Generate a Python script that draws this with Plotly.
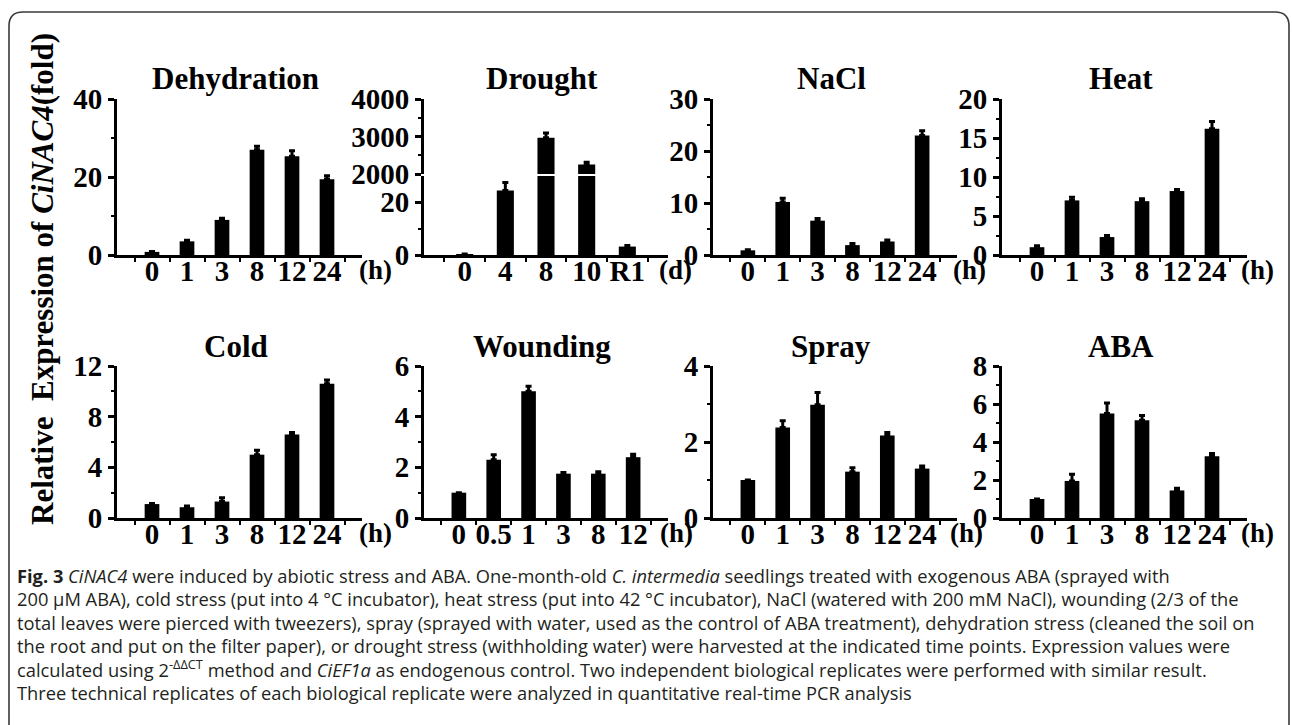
import plotly.graph_objects as go

W, H = 1292, 725

# ---------------- data ----------------
dehy_cats = ["0", "1", "3", "8", "12", "24"]
dehy_vals = [0.8, 3.5, 9.0, 27.0, 25.3, 19.4]
dehy_err = [0.1, 0.3, 0.4, 0.9, 1.4, 0.9]

drought_cats = ["0", "4", "8", "10", "R1"]
drought_vals = [0.3, 24.5, 2970, 2250, 3.2]
drought_err = [0.1, 3.0, 125, 60, 0.4]

nacl_cats = ["0", "1", "3", "8", "12", "24"]
nacl_vals = [0.9, 10.2, 6.6, 1.9, 2.6, 23.0]
nacl_err = [0.1, 0.7, 0.4, 0.3, 0.3, 0.9]

heat_cats = ["0", "1", "3", "8", "12", "24"]
heat_vals = [1.0, 7.0, 2.3, 6.9, 8.2, 16.2]
heat_err = [0.2, 0.4, 0.2, 0.3, 0.2, 0.9]

cold_cats = ["0", "1", "3", "8", "12", "24"]
cold_vals = [1.1, 0.85, 1.3, 5.0, 6.6, 10.6]
cold_err = [0.05, 0.1, 0.3, 0.35, 0.15, 0.3]

wound_cats = ["0", "0.5", "1", "3", "8", "12"]
wound_vals = [1.0, 2.3, 5.0, 1.75, 1.75, 2.4]
wound_err = [0.0, 0.2, 0.2, 0.05, 0.08, 0.12]

spray_cats = ["0", "1", "3", "8", "12", "24"]
spray_vals = [1.0, 2.38, 2.98, 1.22, 2.17, 1.3]
spray_err = [0.0, 0.18, 0.32, 0.1, 0.08, 0.07]

aba_cats = ["0", "1", "3", "8", "12", "24"]
aba_vals = [1.0, 1.95, 5.5, 5.15, 1.45, 3.25]
aba_err = [0.0, 0.35, 0.55, 0.25, 0.12, 0.15]

titles = ["Dehydration", "Drought", "NaCl", "Heat", "Cold", "Wounding", "Spray", "ABA"]
units = ["(h)", "(d)", "(h)", "(h)", "(h)", "(h)", "(h)", "(h)"]
y_max = [40, None, 30, 20, 12, 6, 4, 8]
y_dtick = [20, None, 10, 5, 4, 2, 2, 2]

caption_lines = [
    "<b>Fig. 3</b> <i>CiNAC4</i> were induced by abiotic stress and ABA. One-month-old <i>C. intermedia</i> seedlings treated with exogenous ABA (sprayed with",
    "200 μM ABA), cold stress (put into 4 °C incubator), heat stress (put into 42 °C incubator), NaCl (watered with 200 mM NaCl), wounding (2/3 of the",
    "total leaves were pierced with tweezers), spray (sprayed with water, used as the control of ABA treatment), dehydration stress (cleaned the soil on",
    "the root and put on the filter paper), or drought stress (withholding water) were harvested at the indicated time points. Expression values were",
    "calculated using 2<sup>-ΔΔCT</sup> method and <i>CiEF1a</i> as endogenous control. Two independent biological replicates were performed with similar result.",
    "Three technical replicates of each biological replicate were analyzed in quantitative real-time PCR analysis",
]

# ---------------- layout helpers ----------------
def fx(p):
    return p / W


def fy(p):
    return 1 - p / H


SERIF = "Liberation Serif, Times New Roman, serif"
TF = dict(family=SERIF, size=29, color="black", weight="bold")

col_px = [(117, 362), (424, 668), (713, 957), (1002, 1247)]
row_px = [(99, 255), (366, 518)]
unit_dx = [13, 7, 12, 10, 13, 8, 9, 10]

panels = [
    (dehy_cats, dehy_vals, dehy_err),
    (drought_cats, drought_vals, drought_err),
    (nacl_cats, nacl_vals, nacl_err),
    (heat_cats, heat_vals, heat_err),
    (cold_cats, cold_vals, cold_err),
    (wound_cats, wound_vals, wound_err),
    (spray_cats, spray_vals, spray_err),
    (aba_cats, aba_vals, aba_err),
]

fig = go.Figure()
layout = dict(
    width=W, height=H, margin=dict(l=0, r=0, t=0, b=0, pad=0, autoexpand=False),
    paper_bgcolor="white", plot_bgcolor="white", showlegend=False,
    bargap=0.58, font=dict(family=SERIF, color="black"),
)

xcommon = dict(
    type="category", showline=True, linewidth=3, linecolor="black",
    ticks="outside", tickson="boundaries", ticklen=4, tickwidth=2, tickcolor="black",
    tickfont=TF, tickangle=0, showgrid=False, zeroline=False, fixedrange=True,
    ticklabelstandoff=-12, automargin=False,
)
ycommon = dict(
    showline=True, linewidth=3, linecolor="black",
    ticks="outside", ticklen=6, tickwidth=3, tickcolor="black",
    tickfont=TF, showgrid=False, zeroline=False, fixedrange=True,
    ticklabelstandoff=0, automargin=False,
)

annotations = []


def add_bars(cats, vals, errs, xa, ya):
    fig.add_trace(go.Bar(
        x=cats, y=vals, marker=dict(color="black", line=dict(width=0)),
        error_y=dict(type="data", symmetric=False, array=errs,
                     arrayminus=[0] * len(errs), color="black", thickness=3, width=3),
        xaxis=xa, yaxis=ya, hoverinfo="x+y",
    ))


for i, (cats, vals, errs) in enumerate(panels):
    k = i + 1
    r, c = divmod(i, 4)
    x0, x1 = col_px[c]
    ytop, ybot = row_px[r]
    n = len(cats)
    xname = "xaxis" if k == 1 else f"xaxis{k}"
    yname = "yaxis" if k == 1 else f"yaxis{k}"
    xa = "x" if k == 1 else f"x{k}"
    ya = "y" if k == 1 else f"y{k}"

    layout[xname] = dict(xcommon, domain=[fx(x0), fx(x1)], anchor=ya,
                         range=[-1, n], categoryorder="array", categoryarray=cats,
                         tickmode="array", tickvals=cats, ticktext=cats)

    if titles[i] == "Drought":
        brk = 175
        layout[yname] = dict(ycommon, domain=[fy(ybot), fy(brk + 1)], anchor=xa,
                             range=[0, 30], tickvals=[0, 20],
                             minor=dict(ticks="outside", ticklen=3, tickwidth=2,
                                        tickcolor="black", tickvals=[10]))
        add_bars(cats, vals, errs, xa, ya)
        # upper segment of the broken axis
        layout["xaxis9"] = dict(domain=[fx(x0), fx(x1)], anchor="y9", matches="x2",
                                type="category", visible=False, showgrid=False,
                                automargin=False,
                                categoryorder="array", categoryarray=cats)
        layout["yaxis9"] = dict(ycommon, domain=[fy(brk - 1), fy(ytop)], anchor="x9",
                                range=[2000, 4000], tickvals=[2000, 3000, 4000],
                                minor=dict(ticks="outside", ticklen=3, tickwidth=2,
                                           tickcolor="black", tickvals=[2500, 3500]))
        add_bars(cats, vals, errs, "x9", "y9")
    else:
        layout[yname] = dict(ycommon, domain=[fy(ybot), fy(ytop)], anchor=xa,
                             range=[0, y_max[i]], dtick=y_dtick[i], tick0=0,
                             minor=dict(ticks="outside", ticklen=3, tickwidth=2,
                                        tickcolor="black", dtick=y_dtick[i] / 2))
        add_bars(cats, vals, errs, xa, ya)

    # panel title
    annotations.append(dict(
        text=titles[i], x=fx((x0 + x1) / 2 - 4), y=fy(ytop - 20),
        xref="paper", yref="paper", xanchor="center", yanchor="middle",
        showarrow=False, font=dict(family=SERIF, size=31, color="black", weight="bold"),
    ))
    # unit label at end of the x axis
    annotations.append(dict(
        text=units[i], x=fx(x1 + unit_dx[i]), y=fy(ybot + 15),
        xref="paper", yref="paper", xanchor="center", yanchor="middle",
        showarrow=False, font=dict(family=SERIF, size=27, color="black", weight="bold"),
    ))

# shared y-axis title
annotations.append(dict(
    text="Relative\u00a0\u00a0Expression of <i>CiNAC4</i>(fold)",
    x=fx(42), y=fy(279), xref="paper", yref="paper",
    xanchor="center", yanchor="middle", textangle=-90, showarrow=False,
    font=dict(family=SERIF, size=31, color="black", weight="bold"),
))

# caption
cap_y = [575, 598, 622, 645, 668, 692]
for txt, yy in zip(caption_lines, cap_y):
    annotations.append(dict(
        text=txt, x=fx(15), y=fy(yy), xref="paper", yref="paper",
        xanchor="left", yanchor="middle", showarrow=False, align="left",
        font=dict(family="Open Sans, Noto Sans, sans-serif", size=18.3, color="#231f20"),
    ))

layout["annotations"] = annotations

# rounded frame (open at the bottom edge of the picture)
bx0, bx1, by0, by1, rr = 9, 1289, 12, 725, 14
path = (f"M {fx(bx0)},{fy(by1)} L {fx(bx0)},{fy(by0 + rr)} "
        f"Q {fx(bx0)},{fy(by0)} {fx(bx0 + rr)},{fy(by0)} "
        f"L {fx(bx1 - rr)},{fy(by0)} Q {fx(bx1)},{fy(by0)} {fx(bx1)},{fy(by0 + rr)} "
        f"L {fx(bx1)},{fy(by1)}")
layout["shapes"] = [dict(type="path", path=path, xref="paper", yref="paper",
                         line=dict(color="#3a3a3a", width=1.6))]

fig.update_layout(**layout)
fig.write_html("out.html", config={"displayModeBar": False},
               post_script="document.body.style.margin='0';")
